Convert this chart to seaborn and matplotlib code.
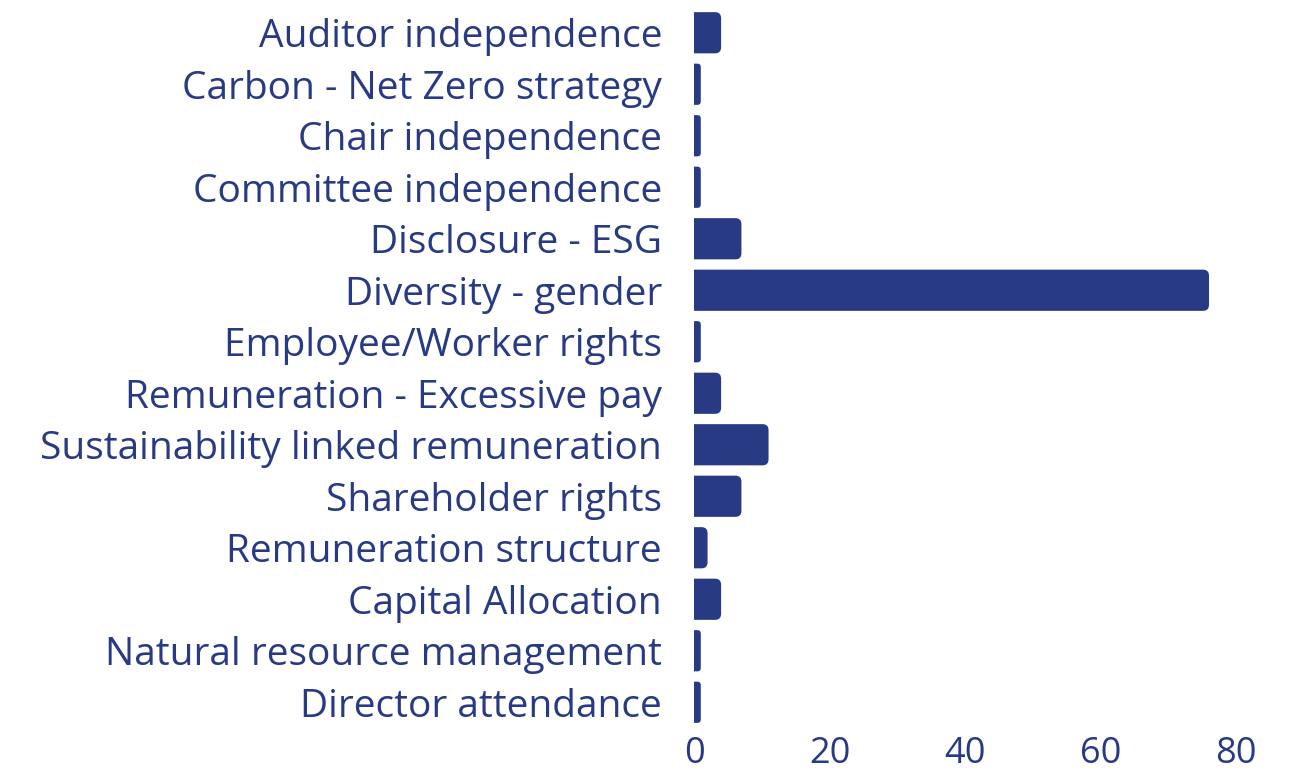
import matplotlib
matplotlib.use("Agg")
import matplotlib.pyplot as plt
from matplotlib.patches import FancyBboxPatch
import seaborn as sns
import pandas as pd

# data
topics = ['Auditor independence', 'Carbon - Net Zero strategy', 'Chair independence',
          'Committee independence', 'Disclosure - ESG', 'Diversity - gender',
          'Employee/Worker rights', 'Remuneration - Excessive pay',
          'Sustainability linked remuneration', 'Shareholder rights',
          'Remuneration structure', 'Capital Allocation',
          'Natural resource management', 'Director attendance']
counts = [4, 1, 1, 1, 7, 76, 1, 4, 11, 7, 2, 4, 1, 1]
xticks = [0, 20, 40, 60, 80]

navy = '#283a84'
df = pd.DataFrame({'topic': topics, 'count': counts})

sns.set_theme(style='white')
plt.rcParams['font.family'] = ['Open Sans', 'DejaVu Sans']

fig = plt.figure(figsize=(13, 7.8), dpi=100)
ax = fig.add_axes([694 / 1300, 1 - 728 / 780, (1270 - 694) / 1300, (728 - 7) / 780])
sns.barplot(data=df, x='count', y='topic', color=navy, width=0.8, ax=ax, saturation=1)

# swap square bars for rounded ones
r_px = 6
xlim = (0, 85)
ax.set_xlim(*xlim)
ax.set_ylim(len(topics) - 0.5, -0.5)
fig.canvas.draw()
px_per_x = ax.bbox.width / (xlim[1] - xlim[0])
px_per_y = ax.bbox.height / len(topics)
old = list(ax.patches)
for p in old:
    x0, y0, w, h = p.get_x(), p.get_y(), p.get_width(), p.get_height()
    p.remove()
    rx = min(r_px, w * px_per_x / 2) / px_per_x
    box = FancyBboxPatch((x0 - rx, y0), w + rx, h,
                         boxstyle=f'round,pad=0,rounding_size={rx}',
                         mutation_aspect=px_per_x / px_per_y,
                         facecolor=navy, edgecolor='none')
    ax.add_patch(box)

ax.set_xticks(xticks)
ax.set_xlabel('')
ax.set_ylabel('')
for s in ax.spines.values():
    s.set_visible(False)
ax.tick_params(axis='y', length=0, pad=23, labelsize=28, labelcolor=navy)
ax.tick_params(axis='x', length=0, pad=6, labelsize=26, labelcolor=navy)
ax.grid(False)

fig.savefig('out.png', dpi=100)
